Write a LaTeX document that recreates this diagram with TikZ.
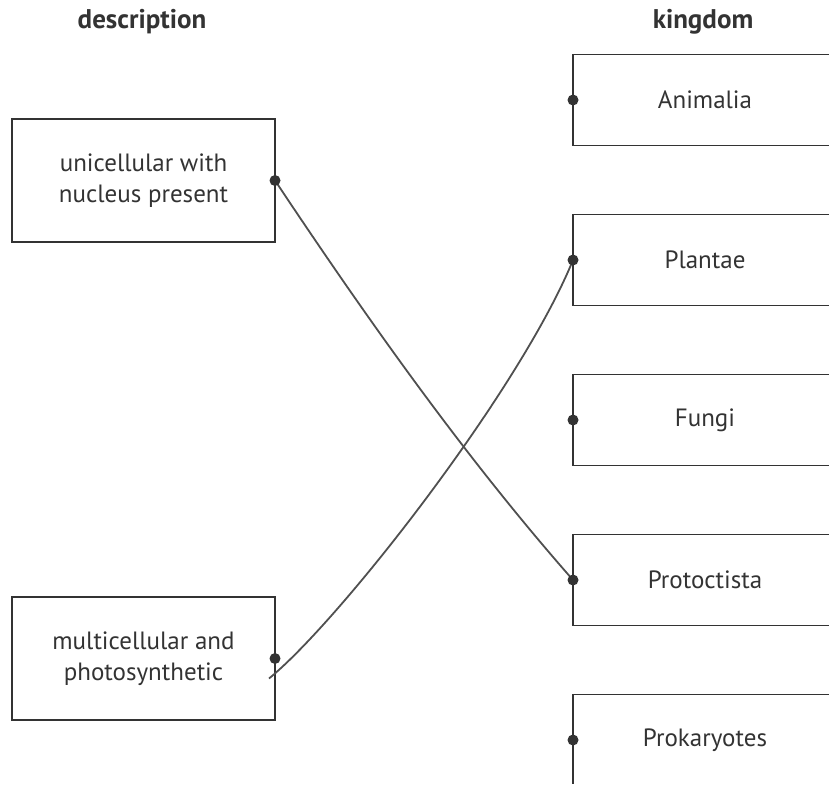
\documentclass[tikz,border=0pt]{standalone}
\usepackage{fontspec}
\setmainfont{PT Sans}
\usetikzlibrary{positioning}
\definecolor{inkgrey}{HTML}{333333}
\definecolor{wiregrey}{HTML}{505050}

\begin{document}
\begin{tikzpicture}[x=1pt,y=-1pt,node distance=69pt,
    box/.style={draw=inkgrey,line width=1.8pt,outer sep=0pt,text=inkgrey,
      align=center,font=\fontsize{25}{31}\selectfont,inner sep=0pt},
    descbox/.style={box,minimum width=263pt,minimum height=123pt},
    kingbox/.style={box,minimum width=264pt,minimum height=91pt},
    heading/.style={text=inkgrey,font=\fontsize{27}{32}\selectfont\bfseries},
    pin/.style={circle,fill=inkgrey,inner sep=0pt,minimum size=11pt},
    wire/.style={draw=wiregrey,line width=1.8pt}]
  \useasboundingbox (0,0) rectangle (829,785);
  \clip (0,0) rectangle (829,783.5);

  % headings
  \node[heading] (deschead) at (142,22) {description};
  \node[heading] (kinghead) at (703,22) {kingdom};

  % kingdoms
  \node[kingbox] (animalia)                       at (705,100) {Animalia};
  \node[kingbox] (plantae)     [below=of animalia]    {Plantae};
  \node[kingbox] (fungi)       [below=of plantae]     {Fungi};
  \node[kingbox] (protoctista) [below=of fungi]       {Protoctista};
  \node[kingbox] (prokaryotes) [below=of protoctista] {Prokaryotes};

  % descriptions
  \node[descbox] (unicell)   at (143.5,180.5) {unicellular with\\nucleus present};
  \node[descbox] (multicell) at (143.5,658.5) {multicellular and\\photosynthetic};
  \coordinate (multistart) at ([xshift=-6pt,yshift=-20pt]multicell.east);

  % answers
  \draw[wire] (unicell.east) .. controls +(90,135) and +(-110,-125) .. (protoctista.west);
  \draw[wire] (multistart) .. controls +(71,-58) and +(-53,130) .. (plantae.west);

  % dots
  \node[pin] (unicellpin)   at (unicell.east)   {};
  \node[pin] (multicellpin) at (multicell.east) {};
  \foreach \k in {animalia,plantae,fungi,protoctista,prokaryotes}
    \node[pin] (\k pin) at (\k.west) {};
\end{tikzpicture}
\end{document}
